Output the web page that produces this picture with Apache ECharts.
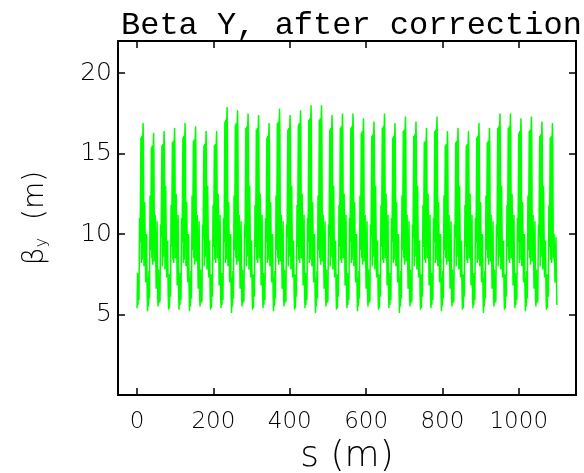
<!DOCTYPE html>
<html><head><meta charset="utf-8">
<script src="https://cdn.jsdelivr.net/npm/echarts@6/dist/echarts.min.js"></script>
<style>html,body{margin:0;padding:0;background:#fff}#c{width:584px;height:473px}</style>
</head><body><div id="c"></div>
<script>
// lattice cell start positions (m)
const cellStart = [0,27.5,55,82.5,110,137.5,165,192.5,220,247.5,275,302.5,330,357.5,385,412.5,440,467.5,495,522.5,550,577.5,605,632.5,660,687.5,715,742.5,770,797.5,825,852.5,880,907.5,935,962.5,990,1017.5,1045,1072.5];
// sample positions inside each cell (m from cell start)
const cellOffsets = [0,1.2,2.4,3.6,5.0,6.5,8.0,10.0,11.2,12.4,13.6,14.8,15.8,16.6,18.0,20.0,22.5,25.0,26.5];
// beta_y (m) read at those samples, one row per cell
const betaRows = [
[5.4,7.6,5.6,7.4,5.9,11.0,9.5,16.0,8.2,16.1,8.4,15.9,16.9,15.6,8.0,12.0,7.0,10.0,6.2],
[5.2,7.3,5.5,7.7,6.0,12.4,9.0,15.4,8.5,15.5,8.1,15.3,16.3,15.0,8.3,11.2,6.6,10.8,6.0],
[5.5,7.8,5.7,7.2,5.8,10.6,9.8,15.5,8.0,15.6,8.6,15.4,16.4,15.1,7.8,13.0,7.3,9.6,6.3],
[5.3,7.5,5.4,7.5,6.1,11.8,9.2,15.7,8.4,15.8,8.2,15.6,16.6,15.3,8.5,12.5,6.8,11.2,6.1],
[5.3,7.6,5.6,7.4,5.9,11.0,9.5,16.0,8.2,16.1,8.4,15.9,16.9,15.6,8.0,12.0,7.0,10.0,6.2],
[5.2,7.3,5.5,7.7,6.0,12.4,9.0,15.8,8.5,15.9,8.1,15.7,16.7,15.4,8.3,11.2,6.6,10.8,6.0],
[5.5,7.8,5.7,7.2,5.8,10.6,9.8,15.5,8.0,15.6,8.6,15.4,16.4,15.1,7.8,13.0,7.3,9.6,6.3],
[5.3,7.5,5.4,7.5,6.1,11.8,9.2,15.5,8.4,15.6,8.2,15.4,16.4,15.1,8.5,12.5,6.8,11.2,6.1],
[5.4,7.6,5.6,7.4,5.9,11.0,9.5,17.0,8.2,17.1,8.4,16.9,17.9,16.6,8.0,12.0,7.0,10.0,6.2],
[5.1,7.3,5.5,7.7,6.0,12.4,9.0,16.8,8.5,16.9,8.1,16.7,17.7,16.4,8.3,11.2,6.6,10.8,6.0],
[5.5,7.8,5.7,7.2,5.8,10.6,9.8,16.6,8.0,16.7,8.6,16.5,17.5,16.2,7.8,13.0,7.3,9.6,6.3],
[5.3,7.5,5.4,7.5,6.1,11.8,9.2,16.5,8.4,16.6,8.2,16.4,17.4,16.1,8.5,12.5,6.8,11.2,6.1],
[5.4,7.6,5.6,7.4,5.9,11.0,9.5,16.0,8.2,16.1,8.4,15.9,16.9,15.6,8.0,12.0,7.0,10.0,6.2],
[5.2,7.3,5.5,7.7,6.0,12.4,9.0,16.9,8.5,17.0,8.1,16.8,17.8,16.5,8.3,11.2,6.6,10.8,6.0],
[5.5,7.8,5.7,7.2,5.8,10.6,9.8,16.5,8.0,16.6,8.6,16.4,17.4,16.1,7.8,13.0,7.3,9.6,6.3],
[5.3,7.5,5.4,7.5,6.1,11.8,9.2,16.8,8.4,16.9,8.2,16.7,17.7,16.4,8.5,12.5,6.8,11.2,6.1],
[5.4,7.6,5.6,7.4,5.9,11.0,9.5,17.1,8.2,17.2,8.4,17.0,18.0,16.7,8.0,12.0,7.0,10.0,6.2],
[5.1,7.3,5.5,7.7,6.0,12.4,9.0,17.1,8.5,17.2,8.1,17.0,18.0,16.7,8.3,11.2,6.6,10.8,6.0],
[5.5,7.8,5.7,7.2,5.8,10.6,9.8,16.5,8.0,16.6,8.6,16.4,17.4,16.1,7.8,13.0,7.3,9.6,6.3],
[5.3,7.5,5.4,7.5,6.1,11.8,9.2,16.6,8.4,16.7,8.2,16.5,17.5,16.2,8.5,12.5,6.8,11.2,6.1],
[5.4,7.6,5.6,7.4,5.9,11.0,9.5,16.6,8.2,16.7,8.4,16.5,17.5,16.2,8.0,12.0,7.0,10.0,6.2],
[5.2,7.3,5.5,7.7,6.0,12.4,9.0,16.3,8.5,16.4,8.1,16.2,17.2,15.9,8.3,11.2,6.6,10.8,6.0],
[5.5,7.8,5.7,7.2,5.8,10.6,9.8,16.1,8.0,16.2,8.6,16.0,17.0,15.7,7.8,13.0,7.3,9.6,6.3],
[5.3,7.5,5.4,7.5,6.1,11.8,9.2,16.6,8.4,16.7,8.2,16.5,17.5,16.2,8.5,12.5,6.8,11.2,6.1],
[5.4,7.6,5.6,7.4,5.9,11.0,9.5,16.0,8.2,16.1,8.4,15.9,16.9,15.6,8.0,12.0,7.0,10.0,6.2],
[5.1,7.3,5.5,7.7,6.0,12.4,9.0,16.4,8.5,16.5,8.1,16.3,17.3,16.0,8.3,11.2,6.6,10.8,6.0],
[5.5,7.8,5.7,7.2,5.8,10.6,9.8,16.1,8.0,16.2,8.6,16.0,17.0,15.7,7.8,13.0,7.3,9.6,6.3],
[5.3,7.5,5.4,7.5,6.1,11.8,9.2,15.7,8.4,15.8,8.2,15.6,16.6,15.3,8.5,12.5,6.8,11.2,6.1],
[5.4,7.6,5.6,7.4,5.9,11.0,9.5,16.4,8.2,16.5,8.4,16.3,17.3,16.0,8.0,12.0,7.0,10.0,6.2],
[5.2,7.3,5.5,7.7,6.0,12.4,9.0,15.5,8.5,15.6,8.1,15.4,16.4,15.1,8.3,11.2,6.6,10.8,6.0],
[5.5,7.8,5.7,7.2,5.8,10.6,9.8,15.7,8.0,15.8,8.6,15.6,16.6,15.3,7.8,13.0,7.3,9.6,6.3],
[5.3,7.5,5.4,7.5,6.1,11.8,9.2,15.5,8.4,15.6,8.2,15.4,16.4,15.1,8.5,12.5,6.8,11.2,6.1],
[5.4,7.6,5.6,7.4,5.9,11.0,9.5,16.0,8.2,16.1,8.4,15.9,16.9,15.6,8.0,12.0,7.0,10.0,6.2],
[5.1,7.3,5.5,7.7,6.0,12.4,9.0,15.7,8.5,15.8,8.1,15.6,16.6,15.3,8.3,11.2,6.6,10.8,6.0],
[5.5,7.8,5.7,7.2,5.8,10.6,9.8,16.6,8.0,16.7,8.6,16.5,17.5,16.2,7.8,13.0,7.3,9.6,6.3],
[5.3,7.5,5.4,7.5,6.1,11.8,9.2,16.6,8.4,16.7,8.2,16.5,17.5,16.2,8.5,12.5,6.8,11.2,6.1],
[5.4,7.6,5.6,7.4,5.9,11.0,9.5,16.3,8.2,16.4,8.4,16.2,17.2,15.9,8.0,12.0,7.0,10.0,6.2],
[5.2,7.3,5.5,7.7,6.0,12.4,9.0,16.4,8.5,16.5,8.1,16.3,17.3,16.0,8.3,11.2,6.6,10.8,6.0],
[5.5,7.8,5.7,7.2,5.8,10.6,9.8,16.1,8.0,16.2,8.6,16.0,17.0,15.7,7.8,13.0,7.3,9.6,6.3],
[5.3,7.5,5.4,7.5,6.1,11.8,9.2,16.0,8.4,16.1,8.2,15.9,16.9,15.6,8.5,10.0,7.0,9.8,6.8]
];
const endPoint = [1100, 5.6];
const xTickLabels = [0,200,400,600,800,1000];
const yTickLabels = [5,10,15,20];

const data = [];
for (let i = 0; i < cellStart.length; i++) {
  for (let j = 0; j < cellOffsets.length; j++) {
    data.push([cellStart[i] + cellOffsets[j], betaRows[i][j]]);
  }
}
data.push(endPoint);

const FONT = 'DejaVu Sans';
const MONO = 'Liberation Mono';
const black = '#000';
const chart = echarts.init(document.getElementById('c'), null, {renderer: 'canvas'});
const axLine = {show: true, onZero: false, lineStyle: {color: black, width: 2}};
const axTick = {show: true, inside: true, length: 7, lineStyle: {color: black, width: 1.5}};
chart.setOption({
  animation: false,
  backgroundColor: '#fff',
  title: {
    text: 'Beta Y, after correction',
    left: 116, top: 5,
    textStyle: {fontFamily: MONO, fontSize: 32, fontWeight: 'normal', color: black}
  },
  grid: {left: 118, right: 8, top: 41, bottom: 78, containLabel: false, outerBoundsMode: 'none'},
  xAxis: [{
    type: 'value', min: -50, max: 1150, splitNumber: 6, position: 'bottom',
    axisLine: axLine, axisTick: axTick, splitLine: {show: false},
    axisLabel: {
      fontFamily: FONT, fontSize: 23, fontWeight: 200, color: black, margin: 16,
      formatter: v => xTickLabels.indexOf(v) >= 0 ? String(v) : ''
    },
    name: 's (m)', nameLocation: 'middle', nameGap: 38,
    nameTextStyle: {fontFamily: FONT, fontSize: 36, fontWeight: 200, color: black}
  }, {
    type: 'value', min: -50, max: 1150, splitNumber: 6, position: 'top',
    axisLine: axLine, axisTick: axTick, axisLabel: {show: false}, splitLine: {show: false}
  }],
  yAxis: [{
    type: 'value', min: 0, max: 22, interval: 5, position: 'left',
    axisLine: axLine, axisTick: axTick, splitLine: {show: false},
    axisLabel: {
      fontFamily: FONT, fontSize: 25, fontWeight: 200, color: black, margin: 6,
      formatter: v => yTickLabels.indexOf(v) >= 0 ? String(v) : ''
    },
    name: '{b|β}{s|y}  {n|(m)}', nameLocation: 'middle', nameGap: 68,
    nameTextStyle: {
      fontFamily: FONT, fontSize: 28, color: black,
      rich: {
        b: {fontFamily: FONT, fontSize: 28, fontWeight: 200, color: black},
        s: {fontFamily: FONT, fontSize: 16, fontWeight: 200, color: black, verticalAlign: 'bottom', padding: [10, 0, 0, 0]},
        n: {fontFamily: FONT, fontSize: 28, fontWeight: 200, color: black}
      }
    }
  }, {
    type: 'value', min: 0, max: 22, interval: 5, position: 'right',
    axisLine: axLine, axisTick: axTick, axisLabel: {show: false}, splitLine: {show: false}
  }],
  series: [{
    type: 'line', xAxisIndex: 0, yAxisIndex: 0, data: data,
    showSymbol: false, symbol: 'none', sampling: null,
    lineStyle: {color: '#00ff00', width: 1.5},
    silent: true
  }]
});
</script>
</body></html>
